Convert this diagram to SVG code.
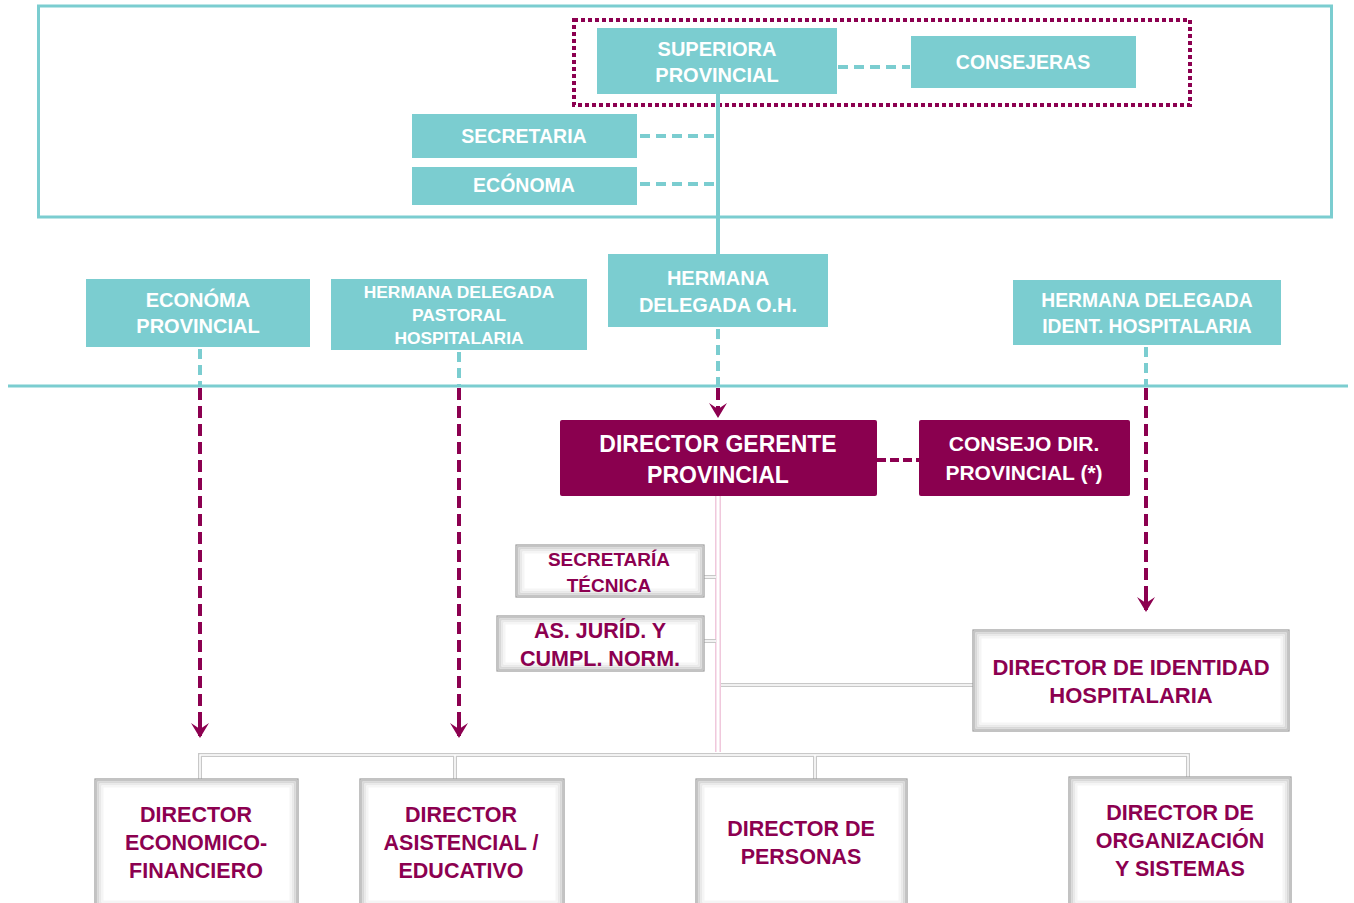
<svg xmlns="http://www.w3.org/2000/svg" width="1354" height="903" viewBox="0 0 1354 903">
<style>
.t{fill:#7BCDD0}
.tt{font-family:"Liberation Sans",Arial,sans-serif;font-weight:bold;fill:#ffffff;text-anchor:middle}
.mt{font-family:"Liberation Sans",Arial,sans-serif;font-weight:bold;fill:#8C0050;text-anchor:middle}
.w{fill:#ffffff;stroke:#9a9a9a;stroke-width:1.2}
.s1{fill:none;stroke:#c4c4c4;stroke-width:2}
.s2{fill:none;stroke:#d8d8d8;stroke-width:2}
.s3{fill:none;stroke:#e9e9e9;stroke-width:2}
.s4{fill:none;stroke:#f5f5f5;stroke-width:2}
.td{stroke:#7BCDD0;stroke-width:4;stroke-dasharray:10,6;fill:none}
.md{stroke:#8C0050;stroke-width:4;stroke-dasharray:12,6;fill:none}
.gl{stroke:#c8c8c8;stroke-width:4;fill:none}
.gw{stroke:#ffffff;stroke-width:1.5;fill:none}
</style>
<rect width="1354" height="903" fill="#ffffff"/>

<rect x="38.5" y="6" width="1293" height="211" fill="none" stroke="#7BCDD0" stroke-width="3"/>
<rect x="574" y="20" width="616" height="85" fill="none" stroke="#8C0050" stroke-width="4" stroke-dasharray="4,3"/>
<line x1="8" y1="386" x2="1348" y2="386" stroke="#7BCDD0" stroke-width="3"/>

<g id="connectors">
<line x1="718" y1="94" x2="718" y2="254" stroke="#7BCDD0" stroke-width="4"/>
<line x1="838" y1="67" x2="910" y2="67" class="td"/>
<line x1="640" y1="136" x2="716" y2="136" class="td"/>
<line x1="640" y1="184" x2="716" y2="184" class="td"/>
<line x1="200" y1="349" x2="200" y2="385" class="td"/>
<line x1="459" y1="352" x2="459" y2="385" class="td"/>
<line x1="718" y1="329" x2="718" y2="385" class="td"/>
<line x1="1146" y1="347" x2="1146" y2="385" class="td"/>
<path d="M200,388 L200,734" class="md"/>
<path d="M200,720 L200,736" stroke="#8C0050" stroke-width="4"/>
<path d="M191,723 L200,738 L209,723 L200,729 Z" fill="#8C0050"/>
<path d="M459,388 L459,734" class="md"/>
<path d="M459,720 L459,736" stroke="#8C0050" stroke-width="4"/>
<path d="M450,723 L459,738 L468,723 L459,729 Z" fill="#8C0050"/>
<path d="M718,388 L718,414" class="md"/>
<path d="M709,403 L718,418 L727,403 L718,409 Z" fill="#8C0050"/>
<path d="M1146,388 L1146,608" class="md"/>
<path d="M1146,596 L1146,610" stroke="#8C0050" stroke-width="4"/>
<path d="M1137,597 L1146,612 L1155,597 L1146,603 Z" fill="#8C0050"/>
<line x1="877" y1="460" x2="919" y2="460" stroke="#8C0050" stroke-width="4" stroke-dasharray="9,4"/>
<line x1="718" y1="496" x2="718" y2="752" stroke="#f0c8dc" stroke-width="6"/>
<line x1="718" y1="496" x2="718" y2="752" stroke="#ffffff" stroke-width="3"/>
<path d="M704,577 L716,577 M704,641 L716,641" class="gl"/>
<path d="M704,577 L716,577 M704,641 L716,641" class="gw"/>
<path d="M721,685 L973,685" class="gl"/>
<path d="M721,685 L973,685" class="gw"/>
<path d="M200,779 L200,755 L1188,755 L1188,777 M455,755 L455,779 M815,755 L815,779" class="gl"/>
<path d="M200,779 L200,755 L1188,755 L1188,777 M455,755 L455,779 M815,755 L815,779" class="gw"/>
</g>

<g id="superiora">
<rect x="597" y="28" width="240" height="66" class="t"/>
<text class="tt" font-size="20" x="717" y="56">SUPERIORA</text>
<text class="tt" font-size="20" x="717" y="82">PROVINCIAL</text>
</g>
<g id="consejeras">
<rect x="911" y="36" width="225" height="52" class="t"/>
<text class="tt" font-size="19.5" x="1023" y="69">CONSEJERAS</text>
</g>
<g id="secretaria">
<rect x="412" y="114" width="225" height="44" class="t"/>
<text class="tt" font-size="19.5" x="524" y="143">SECRETARIA</text>
</g>
<g id="economa">
<rect x="412" y="167" width="225" height="38" class="t"/>
<text class="tt" font-size="19.5" x="524" y="192">ECÓNOMA</text>
</g>
<g id="economa-provincial">
<rect x="86" y="279" width="224" height="68" class="t"/>
<text class="tt" font-size="20" x="198" y="307">ECONÓMA</text>
<text class="tt" font-size="20" x="198" y="333">PROVINCIAL</text>
</g>
<g id="hd-pastoral">
<rect x="331" y="279" width="256" height="71" class="t"/>
<text class="tt" font-size="17.4" x="459" y="298">HERMANA DELEGADA</text>
<text class="tt" font-size="17.4" x="459" y="321">PASTORAL</text>
<text class="tt" font-size="17.4" x="459" y="344">HOSPITALARIA</text>
</g>
<g id="hd-oh">
<rect x="608" y="254" width="220" height="73" class="t"/>
<text class="tt" font-size="20" x="718" y="285">HERMANA</text>
<text class="tt" font-size="20" x="718" y="312">DELEGADA O.H.</text>
</g>
<g id="hd-ident">
<rect x="1013" y="280" width="268" height="65" class="t"/>
<text class="tt" font-size="19.3" x="1147" y="307">HERMANA DELEGADA</text>
<text class="tt" font-size="19.3" x="1147" y="333">IDENT. HOSPITALARIA</text>
</g>

<g id="director-gerente">
<rect x="560" y="420" width="317" height="76" rx="2" fill="#8A004F"/>
<text class="tt" font-size="23" x="718" y="452">DIRECTOR GERENTE</text>
<text class="tt" font-size="23" x="718" y="483">PROVINCIAL</text>
</g>
<g id="consejo-dir">
<rect x="919" y="420" width="211" height="76" rx="2" fill="#8A004F"/>
<text class="tt" font-size="21" x="1024" y="451">CONSEJO DIR.</text>
<text class="tt" font-size="21" x="1024" y="480">PROVINCIAL (*)</text>
</g>

<g id="secretaria-tecnica">
<rect x="516" y="545" width="188" height="52" class="w"/>
<rect x="517.5" y="546.5" width="185" height="49" class="s1"/>
<rect x="519.5" y="548.5" width="181" height="45" class="s2"/>
<rect x="521.5" y="550.5" width="177" height="41" class="s3"/>
<rect x="523.5" y="552.5" width="173" height="37" class="s4"/>
<text class="mt" font-size="19" x="609" y="566">SECRETARÍA</text>
<text class="mt" font-size="19" x="609" y="592">TÉCNICA</text>
</g>
<g id="as-juridica">
<rect x="497" y="616" width="207" height="55" class="w"/>
<rect x="498.5" y="617.5" width="204" height="52" class="s1"/>
<rect x="500.5" y="619.5" width="200" height="48" class="s2"/>
<rect x="502.5" y="621.5" width="196" height="44" class="s3"/>
<rect x="504.5" y="623.5" width="192" height="40" class="s4"/>
<text class="mt" font-size="21.5" x="600" y="638">AS. JURÍD. Y</text>
<text class="mt" font-size="21.5" x="600" y="666">CUMPL. NORM.</text>
</g>
<g id="director-identidad">
<rect x="973" y="630" width="316" height="101" class="w"/>
<rect x="974.5" y="631.5" width="313" height="98" class="s1"/>
<rect x="976.5" y="633.5" width="309" height="94" class="s2"/>
<rect x="978.5" y="635.5" width="305" height="90" class="s3"/>
<rect x="980.5" y="637.5" width="301" height="86" class="s4"/>
<text class="mt" font-size="22" x="1131" y="675">DIRECTOR DE IDENTIDAD</text>
<text class="mt" font-size="22" x="1131" y="703">HOSPITALARIA</text>
</g>

<g id="director-economico">
<rect x="95" y="779" width="203" height="130" class="w"/>
<rect x="96.5" y="780.5" width="200" height="127" class="s1"/>
<rect x="98.5" y="782.5" width="196" height="123" class="s2"/>
<rect x="100.5" y="784.5" width="192" height="119" class="s3"/>
<rect x="102.5" y="786.5" width="188" height="115" class="s4"/>
<text class="mt" font-size="21.5" x="196" y="822">DIRECTOR</text>
<text class="mt" font-size="21.5" x="196" y="850">ECONOMICO-</text>
<text class="mt" font-size="21.5" x="196" y="878">FINANCIERO</text>
</g>
<g id="director-asistencial">
<rect x="360" y="779" width="204" height="130" class="w"/>
<rect x="361.5" y="780.5" width="201" height="127" class="s1"/>
<rect x="363.5" y="782.5" width="197" height="123" class="s2"/>
<rect x="365.5" y="784.5" width="193" height="119" class="s3"/>
<rect x="367.5" y="786.5" width="189" height="115" class="s4"/>
<text class="mt" font-size="21.5" x="461" y="822">DIRECTOR</text>
<text class="mt" font-size="21.5" x="461" y="850">ASISTENCIAL /</text>
<text class="mt" font-size="21.5" x="461" y="878">EDUCATIVO</text>
</g>
<g id="director-personas">
<rect x="696" y="779" width="211" height="130" class="w"/>
<rect x="697.5" y="780.5" width="208" height="127" class="s1"/>
<rect x="699.5" y="782.5" width="204" height="123" class="s2"/>
<rect x="701.5" y="784.5" width="200" height="119" class="s3"/>
<rect x="703.5" y="786.5" width="196" height="115" class="s4"/>
<text class="mt" font-size="21.5" x="801" y="836">DIRECTOR DE</text>
<text class="mt" font-size="21.5" x="801" y="864">PERSONAS</text>
</g>
<g id="director-organizacion">
<rect x="1069" y="777" width="222" height="132" class="w"/>
<rect x="1070.5" y="778.5" width="219" height="129" class="s1"/>
<rect x="1072.5" y="780.5" width="215" height="125" class="s2"/>
<rect x="1074.5" y="782.5" width="211" height="121" class="s3"/>
<rect x="1076.5" y="784.5" width="207" height="117" class="s4"/>
<text class="mt" font-size="21.5" x="1180" y="820">DIRECTOR DE</text>
<text class="mt" font-size="21.5" x="1180" y="848">ORGANIZACIÓN</text>
<text class="mt" font-size="21.5" x="1180" y="876">Y SISTEMAS</text>
</g>
</svg>
